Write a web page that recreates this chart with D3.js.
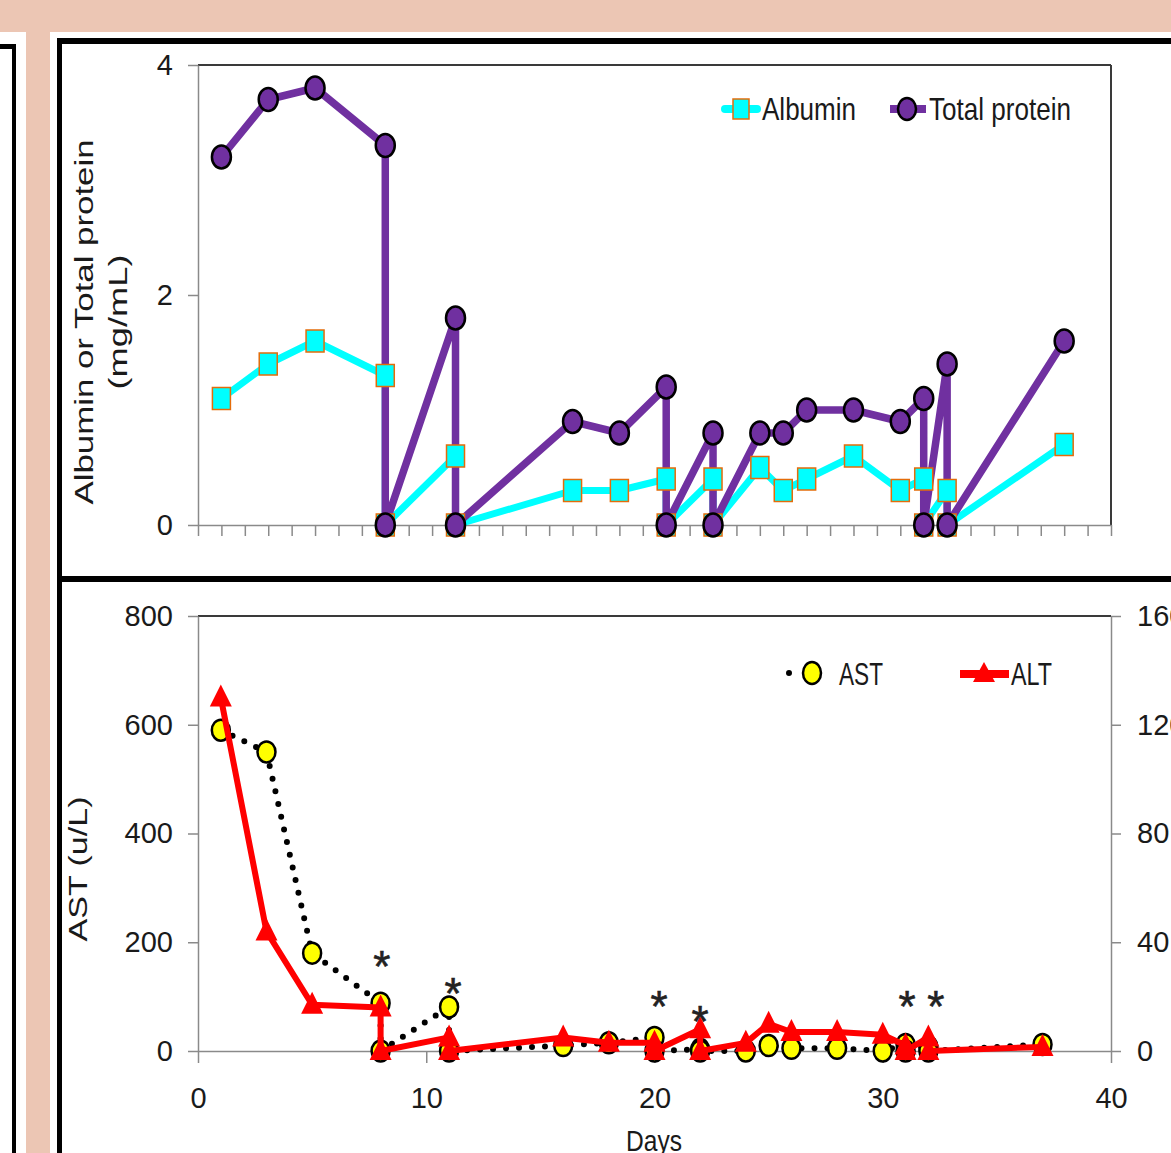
<!DOCTYPE html>
<html><head><meta charset="utf-8">
<script src="https://cdn.jsdelivr.net/npm/d3@7"></script>
<style>html,body{margin:0;padding:0;background:#ECC6B4;overflow:hidden}</style>
</head><body>
<svg id="c" width="1171" height="1153"></svg>
<script>
// ---------- data ----------
const days = [1,3,5,8,8,11,11,16,18,20,20,22,22,24,25,26,28,30,31,31,32,32,37];
const albumin = [1.1,1.4,1.6,1.3,0,0.6,0,0.3,0.3,0.4,0,0.4,0,0.5,0.3,0.4,0.6,0.3,0.4,0,0.3,0,0.7];
const totalProtein = [3.2,3.7,3.8,3.3,0,1.8,0,0.9,0.8,1.2,0,0.8,0,0.8,0.8,1.0,1.0,0.9,1.1,0,1.4,0,1.6];
const ast = [590,550,180,88,0,81,0,10,15,25,0,3,0,0,10,5,5,0,12,0,8,0,12];
const alt = [130,44,17,16,0,5,0,5,3,3,0,8,0,3,10,7,7,6,2,0,5,0,1.5];
const starDays = [8.05,11.17,20.2,22.0,31.06,32.33];
const starLevels = [177,127,103,75,103,103];
const topYTicks = [0,2,4];
const topXTicks = d3.range(0,40);
const astTicks = [0,200,400,600,800];
const altTicks = [0,40,80,120,160];
const dayTicks = [0,10,20,30,40];

const FONT = "'Liberation Sans', Arial, sans-serif";
const svg = d3.select('#c');

// ---------- page frame ----------
svg.append('rect').attr('width',1171).attr('height',1153).attr('fill','#ECC6B4');
svg.append('rect').attr('x',0).attr('y',32).attr('width',26).attr('height',1121).attr('fill','#fff');
svg.append('rect').attr('x',12).attr('y',44).attr('width',4).attr('height',1109).attr('fill','#000');
svg.append('rect').attr('x',0).attr('y',44).attr('width',16).attr('height',5).attr('fill','#000');
svg.append('rect').attr('x',50).attr('y',32).attr('width',1121).attr('height',1121).attr('fill','#fff');
svg.append('rect').attr('x',57).attr('y',38).attr('width',1114).attr('height',6).attr('fill','#000');
svg.append('rect').attr('x',57).attr('y',38).attr('width',5).attr('height',1115).attr('fill','#000');
svg.append('rect').attr('x',57).attr('y',576).attr('width',1114).attr('height',6).attr('fill','#000');

function styleAxis(g){
  g.select('.domain').attr('stroke','#8a8a8a').attr('stroke-width',1.5);
  g.selectAll('.tick line').attr('stroke','#8a8a8a').attr('stroke-width',1.5);
  g.selectAll('.tick text').attr('fill','#1a1a1a').style('font-family',FONT).style('font-size','29px');
}

// ---------- top chart ----------
const xT = d3.scaleLinear([0,39],[198,1111]);
const yT = d3.scaleLinear([0,4],[525,65]);
const T = svg.append('g');
T.append('line').attr('x1',198).attr('x2',1111).attr('y1',65).attr('y2',65).attr('stroke','#3a3a3a').attr('stroke-width',2);
T.append('line').attr('x1',1111).attr('x2',1111).attr('y1',65).attr('y2',525).attr('stroke','#3a3a3a').attr('stroke-width',2);
T.append('g').attr('transform','translate(198,0)')
  .call(d3.axisLeft(yT).tickValues(topYTicks).tickSize(10).tickPadding(15).tickSizeOuter(0).tickFormat(d3.format('d')))
  .call(styleAxis);
T.append('g').attr('transform','translate(0,525)')
  .call(d3.axisBottom(xT).tickValues(topXTicks).tickSize(11).tickSizeOuter(0).tickFormat(''))
  .call(styleAxis);

const topAlb = days.map((d,i)=>[d,albumin[i]]);
const topTP = days.map((d,i)=>[d,totalProtein[i]]);
const lineT = d3.line().x(d=>xT(d[0])).y(d=>yT(d[1]));
T.append('path').attr('d',lineT(topAlb)).attr('fill','none').attr('stroke','#00FFFF').attr('stroke-width',7).attr('stroke-linejoin','round');
T.append('path').attr('d',lineT(topTP)).attr('fill','none').attr('stroke','#7030A0').attr('stroke-width',7.5).attr('stroke-linejoin','round');
T.selectAll('rect.alb').data(topAlb).join('rect').attr('class','alb')
  .attr('x',d=>xT(d[0])-9).attr('y',d=>yT(d[1])-11).attr('width',18).attr('height',22)
  .attr('fill','#00FFFF').attr('stroke','#E46C0A').attr('stroke-width',1.5);
T.selectAll('ellipse.tp').data(topTP).join('ellipse').attr('class','tp')
  .attr('cx',d=>xT(d[0])).attr('cy',d=>yT(d[1])).attr('rx',9.5).attr('ry',11.5)
  .attr('fill','#7030A0').attr('stroke','#000').attr('stroke-width',2.5);

// top legend
T.append('line').attr('x1',725).attr('x2',757).attr('y1',109).attr('y2',109).attr('stroke','#00FFFF').attr('stroke-width',8).attr('stroke-linecap','round');
T.append('rect').attr('x',733).attr('y',99).attr('width',16).attr('height',20).attr('fill','#00FFFF').attr('stroke','#E46C0A').attr('stroke-width',1.5);
T.append('text').attr('x',762).attr('y',120).text('Albumin').attr('textLength',94).attr('lengthAdjust','spacingAndGlyphs')
  .style('font-family',FONT).style('font-size','32px').attr('fill','#1a1a1a');
T.append('line').attr('x1',890).attr('x2',926).attr('y1',109).attr('y2',109).attr('stroke','#7030A0').attr('stroke-width',8);
T.append('ellipse').attr('cx',907).attr('cy',109).attr('rx',9).attr('ry',11).attr('fill','#7030A0').attr('stroke','#000').attr('stroke-width',2.5);
T.append('text').attr('x',929).attr('y',120).text('Total protein').attr('textLength',142).attr('lengthAdjust','spacingAndGlyphs')
  .style('font-family',FONT).style('font-size','32px').attr('fill','#1a1a1a');

// top y title
T.append('text').attr('transform','translate(93,322) rotate(-90)').attr('text-anchor','middle')
  .text('Albumin or Total protein').attr('textLength',365).attr('lengthAdjust','spacingAndGlyphs')
  .style('font-family',FONT).style('font-size','26px').attr('fill','#1a1a1a');
T.append('text').attr('transform','translate(127,322) rotate(-90)').attr('text-anchor','middle')
  .text('(mg/mL)').attr('textLength',135).attr('lengthAdjust','spacingAndGlyphs')
  .style('font-family',FONT).style('font-size','26px').attr('fill','#1a1a1a');

// ---------- bottom chart ----------
const xB = d3.scaleLinear([0,40],[198,1111]);
const yL = d3.scaleLinear([0,800],[1051,616]);
const yR = d3.scaleLinear([0,160],[1051,616]);
const B = svg.append('g');
B.append('line').attr('x1',198).attr('x2',1111).attr('y1',616).attr('y2',616).attr('stroke','#3a3a3a').attr('stroke-width',2);
B.append('g').attr('transform','translate(198,0)')
  .call(d3.axisLeft(yL).tickValues(astTicks).tickSize(10).tickPadding(15).tickSizeOuter(0).tickFormat(d3.format('d')))
  .call(styleAxis);
B.append('g').attr('transform','translate(1111,0)')
  .call(d3.axisRight(yR).tickValues(altTicks).tickSize(10).tickPadding(16).tickSizeOuter(0).tickFormat(d3.format('d')))
  .call(styleAxis);
B.append('g').attr('transform','translate(0,1051)')
  .call(d3.axisBottom(xB).tickValues(dayTicks).tickSize(12).tickPadding(24).tickSizeOuter(0).tickFormat(d3.format('d')))
  .call(styleAxis);

const astPts = days.map((d,i)=>[d,ast[i]]);
const altPts = days.map((d,i)=>[d,alt[i]]);
B.append('path').attr('d',d3.line().x(d=>xB(d[0])).y(d=>yL(d[1]))(astPts)).attr('fill','none')
  .attr('stroke','#000').attr('stroke-width',6).attr('stroke-dasharray','0 13').attr('stroke-linecap','round');
B.selectAll('ellipse.ast').data(astPts).join('ellipse').attr('class','ast')
  .attr('cx',d=>xB(d[0])).attr('cy',d=>yL(d[1])).attr('rx',9).attr('ry',10.5)
  .attr('fill','#FFFF00').attr('stroke','#000').attr('stroke-width',2.5);
B.append('path').attr('d',d3.line().x(d=>xB(d[0])).y(d=>yR(d[1]))(altPts)).attr('fill','none')
  .attr('stroke','#FF0000').attr('stroke-width',6).attr('stroke-linejoin','round');
const tri = 'M0,-13L11,9L-11,9Z';
B.selectAll('path.alt').data(altPts).join('path').attr('class','alt')
  .attr('d',tri).attr('transform',d=>`translate(${xB(d[0])},${yR(d[1])})`).attr('fill','#FF0000');

// asterisks
B.selectAll('text.star').data(starDays.map((d,i)=>[d,starLevels[i]])).join('text').attr('class','star')
  .attr('x',d=>xB(d[0])).attr('y',d=>yL(d[1])).attr('dy','0.62em').attr('text-anchor','middle').text('*')
  .style('font-family',FONT).style('font-size','44px').attr('fill','#222').attr('stroke','#222').attr('stroke-width',0.6);

// bottom legend
B.append('line').attr('x1',789).attr('x2',833).attr('y1',673).attr('y2',673).attr('stroke','#000').attr('stroke-width',6)
  .attr('stroke-dasharray','0 22').attr('stroke-linecap','round');
B.append('ellipse').attr('cx',812).attr('cy',673).attr('rx',9).attr('ry',11).attr('fill','#FFFF00').attr('stroke','#000').attr('stroke-width',2.5);
B.append('text').attr('x',839).attr('y',685).text('AST').attr('textLength',44).attr('lengthAdjust','spacingAndGlyphs')
  .style('font-family',FONT).style('font-size','32px').attr('fill','#1a1a1a');
B.append('line').attr('x1',960).attr('x2',1009).attr('y1',674).attr('y2',674).attr('stroke','#FF0000').attr('stroke-width',8);
B.append('path').attr('d','M0,-11L11,9L-11,9Z').attr('transform','translate(984,673)').attr('fill','#FF0000');
B.append('text').attr('x',1011).attr('y',685).text('ALT').attr('textLength',41).attr('lengthAdjust','spacingAndGlyphs')
  .style('font-family',FONT).style('font-size','32px').attr('fill','#1a1a1a');

// bottom titles
B.append('text').attr('transform','translate(87,869) rotate(-90)').attr('text-anchor','middle')
  .text('AST (u/L)').attr('textLength',145).attr('lengthAdjust','spacingAndGlyphs')
  .style('font-family',FONT).style('font-size','26px').attr('fill','#1a1a1a');
B.append('text').attr('x',654).attr('y',1151).attr('text-anchor','middle')
  .text('Days').attr('textLength',56).attr('lengthAdjust','spacingAndGlyphs')
  .style('font-family',FONT).style('font-size','29px').attr('fill','#1a1a1a');
</script>
</body></html>
